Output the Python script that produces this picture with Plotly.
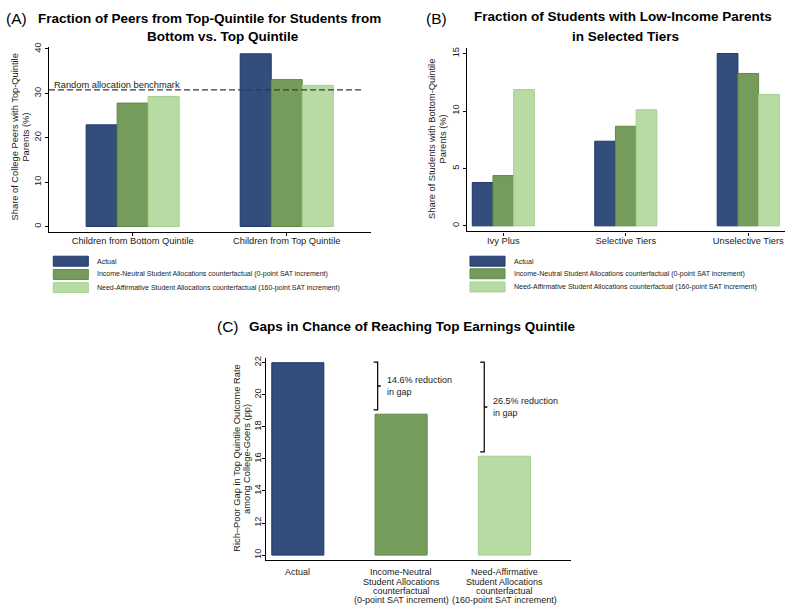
import plotly.graph_objects as go

W, H = 785, 609
FONT = "Liberation Sans, Arial, Helvetica, sans-serif"
TXT = "#1a1a1a"

# ---------------- data ----------------
series_names = [
    "Actual",
    "Income-Neutral Student Allocations counterfactual (0-point SAT increment)",
    "Need-Affirmative Student Allocations counterfactual (160-point SAT increment)",
]

# (A) share of college peers with top-quintile parents (%)
peer_groups = ["Children from Bottom Quintile", "Children from Top Quintile"]
peer_actual = [22.9, 38.9]
peer_neutral = [27.8, 33.1]
peer_affirm = [29.3, 31.8]
random_benchmark = 30.8

# (B) share of students with bottom-quintile parents (%)
tiers = ["Ivy Plus", "Selective Tiers", "Unselective Tiers"]
tier_actual = [3.77, 7.37, 15.0]
tier_neutral = [4.38, 8.67, 13.27]
tier_affirm = [11.86, 10.1, 11.43]

# (C) rich-poor gap in top-quintile outcome rate (pp)
scenarios = [
    ["Actual"],
    ["Income-Neutral", "Student Allocations", "counterfactual", "(0-point SAT increment)"],
    ["Need-Affirmative", "Student Allocations", "counterfactual", "(160-point SAT increment)"],
]
gap_values = [22.0, 18.79, 16.17]
gap_floor = 10

# ---------------- styling ----------------
fills = ["#334D7C", "#769C5B", "#B8DAA3"]
edges = ["#1F3667", "#5E8A46", "#A6CF8F"]


def px(x):
    return x / W


def py(y):
    return 1 - y / H


fig = go.Figure()

# Panel A bars
wA = 0.2013
for j, vals in enumerate([peer_actual, peer_neutral, peer_affirm]):
    fig.add_trace(go.Bar(
        x=list(range(len(peer_groups))), y=vals, width=wA, offset=(j - 1.5) * wA,
        marker=dict(color=fills[j], line=dict(color=edges[j], width=1)),
        name=series_names[j], showlegend=False, xaxis="x", yaxis="y"))

# Panel B bars
wB = 0.169
for j, vals in enumerate([tier_actual, tier_neutral, tier_affirm]):
    fig.add_trace(go.Bar(
        x=list(range(len(tiers))), y=vals, width=wB, offset=(j - 1.5) * wB,
        marker=dict(color=fills[j], line=dict(color=edges[j], width=1)),
        name=series_names[j], showlegend=False, xaxis="x2", yaxis="y2"))

# Panel C bars (drawn up from the axis floor)
wC = 0.504
fig.add_trace(go.Bar(
    x=list(range(len(gap_values))), y=[v - gap_floor for v in gap_values], base=gap_floor,
    width=wC, offset=-wC / 2,
    marker=dict(color=fills, line=dict(color=edges, width=1)),
    showlegend=False, xaxis="x3", yaxis="y3"))

axis_common = dict(showline=True, linecolor="black", linewidth=1.3, showgrid=False,
                   zeroline=False, ticks="outside", ticklen=3, tickcolor="black",
                   tickwidth=1, tickfont=dict(family=FONT, size=9.3, color=TXT))

fig.update_layout(
    width=W, height=H, margin=dict(l=0, r=0, t=0, b=0),
    paper_bgcolor="white", plot_bgcolor="white", barmode="overlay",
    font=dict(family=FONT, color=TXT),
    xaxis=dict(axis_common, domain=[px(49), px(371)], range=[-0.543, 1.547],
               tickvals=list(range(len(peer_groups))), ticktext=peer_groups,
               ticklabelstandoff=-3, anchor="y"),
    yaxis=dict(axis_common, domain=[py(228.7), py(42.7)], range=[-1.2, 40.36],
               tickvals=[0, 10, 20, 30, 40], tickangle=-90, anchor="x"),
    xaxis2=dict(axis_common, domain=[px(466.7), 1.0], range=[-0.299, 2.30],
                tickvals=list(range(len(tiers))), ticktext=tiers,
                ticklabelstandoff=-3, anchor="y2"),
    yaxis2=dict(axis_common, domain=[py(228.3), py(43.3)], range=[-0.484, 15.49],
                tickvals=[0, 5, 10, 15], tickangle=-90, anchor="x2"),
    xaxis3=dict(axis_common, domain=[px(265.7), px(571)], range=[-0.311, 2.645],
                tickvals=list(range(len(gap_values))), ticks="", showticklabels=False,
                anchor="y3"),
    yaxis3=dict(axis_common, domain=[py(560), py(355.7)], range=[9.67, 22.31],
                tickvals=list(range(10, 23, 2)), tickangle=-90, ticklabelstandoff=-3,
                anchor="x3"),
)

ann = []
shapes = []

# Titles
def title_line(text, cx, cy, size=13.5, bold=True):
    ann.append(dict(text=f"<b>{text}</b>" if bold else text, x=px(cx), y=py(cy),
                    xref="paper", yref="paper", xanchor="center", yanchor="middle",
                    showarrow=False, font=dict(family=FONT, size=size, color="black")))

title_line("(A)", 16, 14, size=15.5, bold=False)
title_line("Fraction of Peers from Top-Quintile for Students from", 209, 14)
title_line("Bottom vs. Top Quintile", 222.5, 31.7)
title_line("(B)", 436, 14, size=15.5, bold=False)
title_line("Fraction of Students with Low-Income Parents", 623, 11.7)
title_line("in Selected Tiers", 625.5, 31.7)
title_line("(C)", 227.5, 324, size=15.5, bold=False)
title_line("Gaps in Chance of Reaching Top Earnings Quintile", 412.5, 324)

# Y-axis titles, one rotated line at a time
def ytitle(lines, xs, cy):
    for text, cx in zip(lines, xs):
        ann.append(dict(text=text, x=px(cx), y=py(cy), xref="paper", yref="paper",
                        xanchor="center", yanchor="middle", textangle=-90, showarrow=False,
                        font=dict(family=FONT, size=9.3, color=TXT)))

ytitle(["Share of College Peers with Top-Quintile", "Parents (%)"], [15, 26.2], 133.5)
ytitle(["Share of Students with Bottom-Quintile", "Parents (%)"], [432, 442.5], 135)
ytitle(["Rich\u2013Poor Gap in Top Quintile Outcome Rate", "among College-Goers (pp)"],
       [237, 247.2], 457.5)

# Random allocation benchmark
shapes.append(dict(type="line", xref="x", yref="y", x0=-0.543, x1=1.495,
                   y0=random_benchmark, y1=random_benchmark,
                   line=dict(color="#3a3a3a", width=1.2, dash="6px,3px")))
ann.append(dict(text="Random allocation benchmark", x=-0.526, y=random_benchmark,
                xref="x", yref="y", xanchor="left", yanchor="middle", yshift=5,
                showarrow=False, font=dict(family=FONT, size=9.3, color=TXT)))

# Legends for panels A and B
def legend_block(box_x0, text_x, rows_y):
    for j, (name, ry) in enumerate(zip(series_names, rows_y)):
        shapes.append(dict(type="rect", xref="paper", yref="paper",
                           x0=px(box_x0), x1=px(box_x0 + 35), y0=py(ry + 5), y1=py(ry - 5),
                           fillcolor=fills[j], line=dict(color=edges[j], width=1)))
        ann.append(dict(text=name, x=px(text_x), y=py(ry), xref="paper", yref="paper",
                        xanchor="left", yanchor="middle", showarrow=False,
                        font=dict(family=FONT, size=7, color=TXT)))

legend_block(53.3, 95, [258.3, 271.7, 285])
legend_block(470, 511.7, [258.3, 271, 284.3])

# Panel C category labels, tightly stacked lines
for i, lines in enumerate(scenarios):
    for k, line in enumerate(lines):
        ann.append(dict(text=line, x=i, y=py(560), xref="x3", yref="paper",
                        xanchor="center", yanchor="middle", yshift=-(11.7 + 9.4 * k),
                        showarrow=False, font=dict(family=FONT, size=9, color=TXT)))

# Reduction brackets
bracket_shift = {1: 0.227, 2: 0.195}
cap, tick = 0.039, 0.03
for i in (1, 2):
    xb = i - bracket_shift[i]
    top = gap_values[0] + 0.04
    bot = gap_values[i] + 0.27
    mid = (top + bot) / 2
    shapes.append(dict(type="path", xref="x3", yref="y3",
                       path=f"M{xb - cap},{top} L{xb},{top} L{xb},{bot} L{xb - cap},{bot}",
                       line=dict(color="black", width=1.2)))
    shapes.append(dict(type="line", xref="x3", yref="y3", x0=xb, x1=xb + tick, y0=mid, y1=mid,
                       line=dict(color="black", width=1.5)))
    pct = (1 - gap_values[i] / gap_values[0]) * 100
    ann.append(dict(text=f"{pct:.1f}% reduction<br>in gap", x=xb, y=mid, xref="x3", yref="y3",
                    xanchor="left", yanchor="middle", xshift=7, align="left", showarrow=False,
                    font=dict(family=FONT, size=9, color=TXT)))

fig.update_layout(annotations=ann, shapes=shapes)
fig.write_html("out.html")
